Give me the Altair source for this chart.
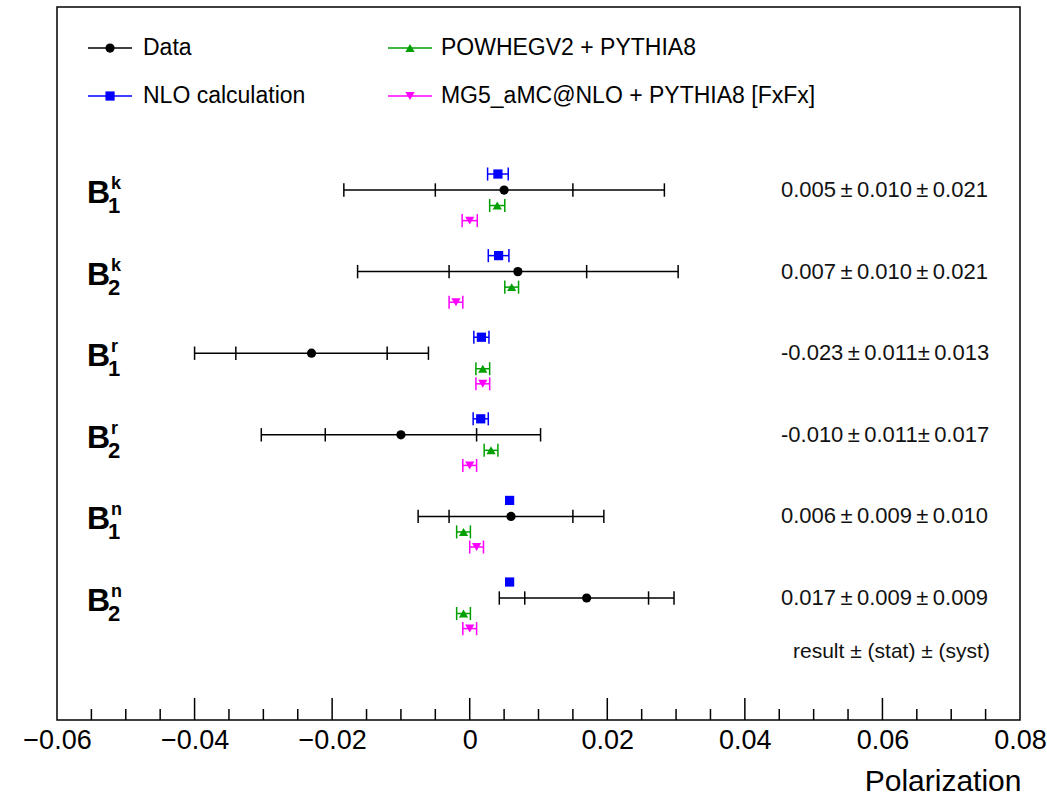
import altair as alt
import pandas as pd

# ---------------- data ----------------
sub_idx = ["1", "2", "1", "2", "1", "2"]
sup_idx = ["k", "k", "r", "r", "n", "n"]

data_val = [0.005, 0.007, -0.023, -0.010, 0.006, 0.017]
data_stat = [0.010, 0.010, 0.011, 0.011, 0.009, 0.009]
data_tot = [0.0233, 0.0233, 0.0170, 0.0203, 0.0135, 0.0127]

T = "\u2009"
value_labels = [
    f"0.005{T}±{T}0.010{T}±{T}0.021",
    f"0.007{T}±{T}0.010{T}±{T}0.021",
    f"-0.023{T}±{T}0.011±{T}0.013",
    f"-0.010{T}±{T}0.011±{T}0.017",
    f"0.006{T}±{T}0.009{T}±{T}0.010",
    f"0.017{T}±{T}0.009{T}±{T}0.009",
]
footnote = "result ± (stat) ± (syst)"

nlo_val = [0.0041, 0.0042, 0.0017, 0.0016, 0.0058, 0.0058]
nlo_err = [0.0015, 0.0015, 0.0011, 0.0011, 0.0003, 0.0003]
pow_val = [0.0040, 0.0061, 0.0019, 0.0031, -0.0009, -0.0009]
pow_err = [0.0011, 0.0010, 0.0010, 0.0010, 0.0010, 0.0010]
mg5_val = [0.0000, -0.0020, 0.0019, 0.0000, 0.0010, 0.0000]
mg5_err = [0.0011, 0.0010, 0.0010, 0.0010, 0.0010, 0.0010]

names = ["Data", "NLO calculation", "POWHEGV2 + PYTHIA8", "MG5_aMC@NLO + PYTHIA8 [FxFx]"]
colors = ["#000000", "#0000ff", "#00a000", "#ff00ff"]
shapes = ["circle", "square", "triangle-up", "triangle-down"]

major_ticks = [-0.06, -0.04, -0.02, 0, 0.02, 0.04, 0.06, 0.08]
inner_major = [-0.04, -0.02, 0, 0.02, 0.04, 0.06]
minor_ticks = [-0.055, -0.05, -0.045, -0.035, -0.03, -0.025, -0.015, -0.01, -0.005,
               0.005, 0.01, 0.015, 0.025, 0.03, 0.035, 0.045, 0.05, 0.055,
               0.065, 0.07, 0.075]

# ---------------- layout (row units on y) ----------------
model_offsets = [-0.196, 0.19, 0.375]
FONT = "Liberation Sans"

df_data = pd.DataFrame({
    "r": list(range(6)), "val": data_val, "stat": data_stat, "tot": data_tot,
    "label": value_labels, "sub": sub_idx, "sup": sup_idx,
})
df_data["lo_tot"] = df_data["val"] - df_data["tot"]
df_data["hi_tot"] = df_data["val"] + df_data["tot"]
df_data["lo_stat"] = df_data["val"] - df_data["stat"]
df_data["hi_stat"] = df_data["val"] + df_data["stat"]
df_data["name"] = "Data"

rows = []
for m, vals, errs, off in zip(names[1:], [nlo_val, pow_val, mg5_val],
                              [nlo_err, pow_err, mg5_err], model_offsets):
    for i, (v, e) in enumerate(zip(vals, errs)):
        rows.append({"name": m, "r": i, "y": i + off, "val": v, "err": e,
                     "lo": v - e, "hi": v + e})
df_mod = pd.DataFrame(rows)

df_leg = pd.DataFrame({
    "name": names,
    "x0": [-0.05549, -0.05549, -0.01188, -0.01188],
    "x1": [-0.04909, -0.04909, -0.00548, -0.00548],
    "xm": [-0.05229, -0.05229, -0.00868, -0.00868],
    "xt": [-0.04750, -0.04750, -0.00418, -0.00418],
    "y": [-1.74, -1.152, -1.74, -1.152],
})

df_foot = pd.DataFrame({"x": [0.0470], "y": [5.66], "t": [footnote]})
df_major = pd.DataFrame({"x": inner_major})
df_minor = pd.DataFrame({"x": minor_ticks})

xs = alt.Scale(domain=[-0.06, 0.08], nice=False, zero=False)
ys = alt.Scale(domain=[-2.243, 6.495], nice=False, zero=False, reverse=True)
col_scale = alt.Scale(domain=names, range=colors)
shape_scale = alt.Scale(domain=names, range=shapes)

xaxis = alt.Axis(
    values=major_ticks,
    labelExpr="datum.value == 0 ? '0' : format(datum.value, '.2f')",
    ticks=False, domain=False, grid=False, labelFlush=False,
    labelFontSize=27, labelFont=FONT, labelColor="black", labelPadding=7,
    title="Polarization", titleFontSize=30, titleFont=FONT, titleColor="black",
    titleFontWeight="normal", titleAlign="right", titleBaseline="alphabetic",
    titleX=964, titleY=70, titleAnchor="end",
)


def X(field):
    return alt.X(field, type="quantitative", scale=xs, axis=xaxis)


def Y(field):
    return alt.Y(field, type="quantitative", scale=ys, axis=None)


COL = alt.Color("name:N", scale=col_scale, legend=None)
SHP = alt.Shape("name:N", scale=shape_scale, legend=None)

# data error bars
data_line = alt.Chart(df_data).mark_rule(color="black", strokeWidth=1.5).encode(
    x=X("lo_tot"), x2="hi_tot", y=Y("r"))
data_caps = alt.Chart(df_data).transform_fold(
    ["lo_tot", "lo_stat", "hi_stat", "hi_tot"], as_=["k", "xc"]
).transform_calculate(y1="datum.r - 0.082", y2="datum.r + 0.082").mark_rule(
    color="black", strokeWidth=1.5).encode(x=X("xc"), y=Y("y1"), y2="y2")
data_pts = alt.Chart(df_data).mark_point(filled=True, size=85, opacity=1).encode(
    x=X("val"), y=Y("r"), color=COL, shape=SHP)

# model predictions
mod_line = alt.Chart(df_mod).transform_filter("datum.err > 0.0008").mark_rule(
    strokeWidth=1.5).encode(x=X("lo"), x2="hi", y=Y("y"), color=COL)
mod_caps = alt.Chart(df_mod).transform_filter("datum.err > 0.0008").transform_fold(
    ["lo", "hi"], as_=["k", "xc"]
).transform_calculate(y1="datum.y - 0.08", y2="datum.y + 0.08").mark_rule(
    strokeWidth=1.5).encode(x=X("xc"), y=Y("y1"), y2="y2", color=COL)
mod_pts = alt.Chart(df_mod).mark_point(filled=True, size=85, opacity=1).encode(
    x=X("val"), y=Y("y"), color=COL, shape=SHP)

# row labels  B_i^j
lab_x = -0.05564
sup_x = -0.05215
sub_x = -0.05259
lab_B = alt.Chart(df_data).transform_calculate(
    t="'B'", lx=str(lab_x)).mark_text(
    font=FONT, fontSize=32, fontWeight="bold", align="left", baseline="alphabetic",
    dy=13, color="black").encode(x=X("lx:Q"), y=Y("r"), text="t:N")
lab_sup = alt.Chart(df_data).transform_calculate(lx=str(sup_x)).mark_text(
    font=FONT, fontSize=18, fontWeight="bold", align="left", baseline="alphabetic",
    dy=-1, color="black").encode(x=X("lx:Q"), y=Y("r"), text="sup:N")
lab_sub = alt.Chart(df_data).transform_calculate(lx=str(sub_x)).mark_text(
    font=FONT, fontSize=22, fontWeight="bold", align="left", baseline="alphabetic",
    dy=23, color="black").encode(x=X("lx:Q"), y=Y("r"), text="sub:N")

# value texts
val_txt = alt.Chart(df_data).transform_calculate(lx="0.04525").mark_text(
    font=FONT, fontSize=22, align="left", baseline="middle", color="#111111").encode(
    x=X("lx:Q"), y=Y("r"), text="label:N")
foot_txt = alt.Chart(df_foot).mark_text(
    font=FONT, fontSize=21, align="left", baseline="middle", color="#111111").encode(
    x=X("x"), y=Y("y"), text="t:N")

# legend
leg_line = alt.Chart(df_leg).mark_rule(strokeWidth=1.5).encode(
    x=X("x0"), x2="x1", y=Y("y"), color=COL)
leg_pts = alt.Chart(df_leg).mark_point(filled=True, size=85, opacity=1).encode(
    x=X("xm"), y=Y("y"), color=COL, shape=SHP)
leg_txt = alt.Chart(df_leg).mark_text(
    font=FONT, fontSize=23, align="left", baseline="middle", color="black").encode(
    x=X("xt"), y=Y("y"), text="name:N")

# inward axis ticks
maj = alt.Chart(df_major).mark_rule(color="black", strokeWidth=1.5).encode(
    x=X("x"), y=alt.value(713), y2=alt.value(691))
mino = alt.Chart(df_minor).mark_rule(color="black", strokeWidth=1.5).encode(
    x=X("x"), y=alt.value(713), y2=alt.value(702))

chart = alt.layer(
    maj, mino, data_line, data_caps, mod_line, mod_caps, data_pts, mod_pts,
    lab_B, lab_sup, lab_sub, val_txt, foot_txt, leg_line, leg_pts, leg_txt,
).properties(
    width=963, height=713,
    padding={"left": 57, "top": 7, "right": 27, "bottom": 75},
    autosize=alt.AutoSizeParams(type="none"),
    background="white",
).configure_view(stroke="black", strokeWidth=1.5)

chart.save("out.html", embed_options={"renderer": "svg", "actions": False})
